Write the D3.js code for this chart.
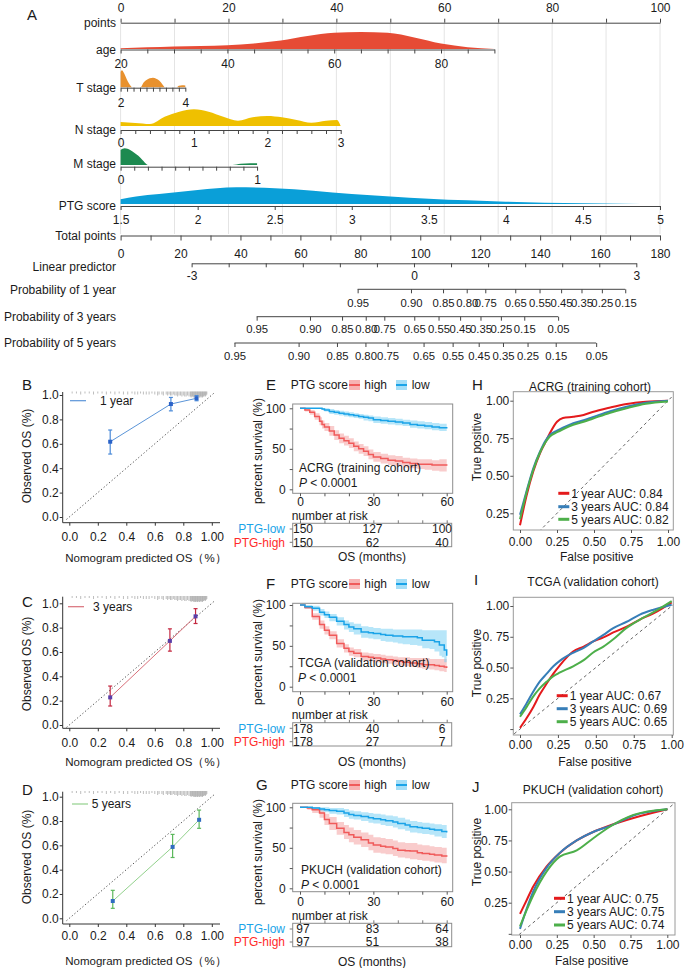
<!DOCTYPE html>
<html><head><meta charset="utf-8">
<script src="https://cdn.jsdelivr.net/npm/d3@7/dist/d3.min.js"></script>
<style>html,body{margin:0;padding:0;background:#fff}svg{display:block}</style>
</head><body>
<script>
// ======================= DATA =======================
// ---- Panel A: nomogram ----
const pointsTicks=[0,10,20,30,40,50,60,70,80,90,100];
const pointsLabels=[0,20,40,60,80,100];
const ageTicks=[20,25,30,35,40,45,50,55,60,65,70,75,80,85,90];
const ageLabels=[20,40,60,80];
const ageRange=[20,90], agePoints=69.3;
const ageDensX=[20,25,30,35,40,45,50,55,60,65,70,75,80,85,90];
const ageDensY=[0.04,0.1,0.15,0.18,0.22,0.33,0.5,0.76,0.95,1.0,0.95,0.68,0.32,0.11,0.0];
const tTicks=[2,2.2,2.4,2.6,2.8,3,3.2,3.4,3.6,3.8,4];
const tLabels=[2,4];
const tRange=[2,4], tPoints=12;
const tDensX=[2,2.04,2.1,2.16,2.22,2.3,2.36,2.62,2.7,2.8,2.9,3.0,3.1,3.2,3.3,3.37,3.74,3.8,3.9,4.0];
const tDensY=[0.9,1.0,0.85,0.6,0.35,0.1,0,0,0.25,0.42,0.52,0.55,0.5,0.38,0.15,0,0,0.08,0.12,0.1];
const nTicks=[0,0.2,0.4,0.6,0.8,1,1.2,1.4,1.6,1.8,2,2.2,2.4,2.6,2.8,3];
const nLabels=[0,1,2,3];
const nRange=[0,3], nPoints=40.8;
const nDensX=[0,0.2,0.4,0.6,0.8,1.0,1.2,1.4,1.6,1.8,2.0,2.2,2.4,2.6,2.8,2.95,3.0];
const nDensY=[0.24,0.18,0.12,0.56,0.86,1.0,0.86,0.56,0.32,0.52,0.6,0.52,0.36,0.2,0.32,0.36,0];
const mTicks=[0,0.1,0.2,0.3,0.4,0.5,0.6,0.7,0.8,0.9,1];
const mLabels=[0,1];
const mRange=[0,1], mPoints=25.3;
const mDensX=[0,0.03,0.07,0.1,0.13,0.16,0.19,0.2,0.82,0.88,0.95,1.0];
const mDensY=[0.9,1.0,0.9,0.74,0.55,0.3,0.05,0,0,0.07,0.11,0.1];
const ptgTicks=[1.5,2,2.5,3,3.5,4,4.5,5];
const ptgRange=[1.5,5], ptgPoints=100;
const ptgDensX=[1.5,1.6,1.75,2.0,2.25,2.5,2.75,3.0,3.25,3.5,3.75,4.0,4.25,4.5,4.75,5.0];
const ptgDensY=[0.28,0.45,0.6,0.84,1.0,0.95,0.8,0.6,0.45,0.32,0.22,0.14,0.08,0.04,0.015,0];
const totalTicks=[0,10,20,30,40,50,60,70,80,90,100,110,120,130,140,150,160,170,180];
const totalLabels=[0,20,40,60,80,100,120,140,160,180];
const lpTicks=[-3,-2.5,-2,-1.5,-1,-0.5,0,0.5,1,1.5,2,2.5,3];
const lpLabels=[-3,0,3];
const lpPointsRange=[23.7,172.1];
const prob1Labels=["0.95","0.90","0.85","0.80","0.75","0.65","0.55","0.45","0.35","0.25","0.15"];
const prob1Points=[79.1,96.9,107.6,115.5,121.7,131.7,139.8,147.0,153.8,160.6,168.4];
const prob3Labels=["0.95","0.90","0.85","0.80","0.75","0.65","0.55","0.45","0.35","0.25","0.15","0.05"];
const prob3Points=[45.4,63.2,73.9,81.8,88.0,98.0,106.1,113.3,120.1,126.9,134.7,146.0];
const prob5Labels=["0.95","0.90","0.85","0.80","0.75","0.65","0.55","0.45","0.35","0.25","0.15","0.05"];
const prob5Points=[38.0,59.4,72.2,81.7,89.1,101.1,110.8,119.5,127.6,135.8,145.2,158.7];

// ---- Panels B-D: calibration ----
const calTicks=[0,0.2,0.4,0.6,0.8,1.0];
const calXLabels=["0.0","0.2","0.4","0.6","0.8","1.00"];
const calYLabels=["0.0","0.2","0.4","0.6","0.8","1.0"];
const rugValues=[0.02,0.05,0.08,0.11,0.14,0.17,0.2,0.23,0.26,0.29,0.32,0.35,0.38,0.41,0.44,0.46,0.48,0.5,0.52,0.54,0.56,0.58,0.6,0.62,0.63,0.65,0.66,0.68,0.69,0.7,0.71,0.72,0.73,0.74,0.75,0.76,0.77,0.78,0.79,0.8,0.81,0.82,0.83,0.84,0.85,0.855,0.86,0.865,0.87,0.875,0.88,0.885,0.89,0.895,0.9,0.905,0.91,0.915,0.92,0.925,0.93,0.935,0.94,0.945,0.95,0.955,0.96,0.965];
const rugLen=[2,2,3,2,2,3,2,2,3,2,3,2,3,3,2,3,3,2,3,3,3,2,3,4,3,3,4,3,4,3,4,4,3,4,4,5,4,4,5,4,5,5,4,5,5,6,5,5,6,5,6,6,5,6,6,5,6,6,5,6,5,6,5,5,4,5,4,3];
const cal1Pred=[0.287,0.713,0.893], cal1Obs=[0.617,0.926,0.973], cal1Lo=[0.516,0.87,0.953], cal1Hi=[0.713,0.98,0.995];
const cal3Pred=[0.287,0.706,0.886], cal3Obs=[0.227,0.691,0.893], cal3Lo=[0.156,0.607,0.834], cal3Hi=[0.32,0.79,0.956];
const cal5Pred=[0.305,0.725,0.911], cal5Obs=[0.142,0.587,0.81], cal5Lo=[0.082,0.5,0.74], cal5Hi=[0.23,0.69,0.89];

// ---- Panels E-G: Kaplan-Meier ----
const kmYTicks=[0,25,50,75,100], kmYLabels=[0,50,100];
const kmXTicks=[0,10,20,30,40,50,60], kmXLabels=[0,30,60];
const riskTimes=[0,30,60];
const eTime=[0,2,4,6,8,9,10,12,14,16,18,20,22,24,26,28,30,33,36,39,42,45,48,51,54,57,60];
const eLow  =[100,100,100,100,100,99,98,96,95,94,93,92,91,90,89,88,86,85,84,83,82,80,79,78,77,76,75];
const eLowLo=[100,100,100,100,100,98,96,93,92,91,90,89,88,87,85,84,82,81,80,79,78,76,75,74,73,72,70];
const eLowHi=[100,100,100,100,100,100,100,99,98,97,96,95,94,93,92,91,90,89,88,87,86,85,84,83,82,81,80];
const eHigh  =[100,98,95,90,84,80,77,72,67,63,60,57,53,50,47,43,40,38,36,35,33,32,31,31,30,30,29];
const eHighLo=[100,96,92,86,79,75,72,66,61,57,54,51,47,44,41,37,34,32,30,29,27,26,25,24,23,22,21];
const eHighHi=[100,100,98,94,89,85,82,78,73,69,66,63,59,56,53,49,46,44,42,41,39,38,37,37,36,37,37];
const eRiskLow=[150,127,100], eRiskHigh=[150,62,40];
const fTime=[0,2,5,8,10,12,15,18,20,22,25,28,30,33,35,38,40,42,45,48,50,53,55,57,58,59,60];
const fLow  =[100,98,96,91,88,85,80,76,73,71,67,66,65,64,63,62,62,61,61,60,57,57,55,51,51,45,38];
const fLowLo=[100,96,93,87,84,80,75,70,67,64,60,59,58,56,55,54,53,52,51,50,47,46,43,38,36,30,24];
const fLowHi=[100,100,99,95,92,89,85,81,79,77,74,73,72,71,71,70,70,70,70,70,69,69,69,69,69,69,68];
const fHigh  =[100,97,86,76,69,63,53,47,43,41,37,36,35,34,33,32,31,30,29,28,27,27,26,25,25,24,23];
const fHighLo=[100,95,82,71,64,58,48,42,38,36,32,31,30,29,28,27,26,25,24,23,22,21,20,19,19,18,17];
const fHighHi=[100,99,90,81,74,68,58,52,48,46,42,41,40,39,38,37,36,36,35,35,35,34,34,34,34,34,33];
const fRiskLow=[178,40,6], fRiskHigh=[178,27,7];
const gTime=[0,3,5,8,10,12,15,18,20,22,25,28,30,33,35,38,40,43,45,48,50,53,55,58,60];
const gLow  =[100,100,99,98,97,96,95,93,91,90,88.5,87,86,84.5,83.5,82,80,78,76,75,74,73,72,70,69];
const gLowLo=[100,100,97,95,94,92,91,88,86,85,83,81,80,78,77,75,73,71,69,68,67,66,64,62,61];
const gLowHi=[100,100,100,100,100,99,99,98,96,95,94,93,92,91,90,89,87,85,83,82,81,80,79,78,77];
const gHigh  =[100,99,97,93,85,80,74,69,66,63,60,56,53.5,52,51,49,47,46.5,46,44,43,42,41,40,39];
const gHighLo=[100,97,93,87,78,72,66,61,57,54,51,47,44,43,42,40,38,37,36,35,34,33,32,31,30];
const gHighHi=[100,100,100,98,92,88,82,78,75,72,69,66,63,62,61,59,57,56,56,54,53,52,51,50,49];
const gRiskLow=[97,83,64], gRiskHigh=[97,51,38];

// ---- Panels H-J: ROC ----
const rocXTicks=[0,0.25,0.5,0.75,1], rocXLabels=["0.00","0.25","0.50","0.75","1.00"];
const rocYTicks=[0.25,0.5,0.75,1], rocYLabels=["0.25","0.50","0. 75","1.00"];
const hFpr=[0,0.045,0.09,0.135,0.17,0.2,0.25,0.29,0.36,0.43,0.49,0.61,0.72,0.85,1];
const h1=[0.17,0.37,0.53,0.65,0.72,0.78,0.86,0.885,0.893,0.905,0.925,0.955,0.978,0.993,1.0];
const h3=[0.24,0.40,0.55,0.66,0.73,0.77,0.80,0.82,0.85,0.87,0.89,0.93,0.96,0.987,1.0];
const h5=[0.21,0.39,0.54,0.655,0.72,0.76,0.79,0.81,0.84,0.86,0.88,0.92,0.95,0.98,0.995];
const iFpr=[0,0.044,0.088,0.13,0.176,0.22,0.264,0.35,0.42,0.48,0.55,0.615,0.70,0.79,0.88,1];
const i1=[0.01,0.09,0.18,0.28,0.37,0.45,0.52,0.63,0.67,0.71,0.745,0.785,0.83,0.89,0.94,1.03];
const i3=[0.12,0.21,0.305,0.385,0.45,0.51,0.556,0.62,0.66,0.71,0.765,0.82,0.87,0.93,0.97,1.01];
const i5=[0.10,0.18,0.265,0.33,0.385,0.43,0.46,0.51,0.56,0.62,0.67,0.73,0.82,0.89,0.95,1.04];
const jFpr=[0,0.045,0.09,0.18,0.27,0.385,0.5,0.61,0.77,1];
const j1=[0.16,0.27,0.38,0.54,0.65,0.75,0.82,0.87,0.93,1.0];
const j3=[0.04,0.2,0.34,0.53,0.65,0.75,0.82,0.865,0.95,1.0];
const j5=[0.06,0.19,0.31,0.50,0.62,0.67,0.77,0.86,0.955,1.0];
const rocLegend=["1 year AUC: ","3 years AUC: ","5 years AUC: "];
const hAUC=["0.84","0.84","0.82"], iAUC=["0.67","0.69","0.65"], jAUC=["0.75","0.75","0.74"];

// ======================= DRAW =======================
const FONT="'Liberation Sans', Arial, Helvetica, sans-serif";
const svg=d3.select("body").append("svg").attr("width",685).attr("height",968).attr("font-family",FONT);
svg.append("rect").attr("width",685).attr("height",968).attr("fill","#fff");
const INK="#1a1a1a";
function txt(x,y,s,o={}){
  return svg.append("text").attr("x",x).attr("y",y).attr("dy","0.35em")
    .attr("font-size",o.size||12).attr("text-anchor",o.anchor||"start")
    .attr("fill",o.fill||INK).attr("font-style",o.italic?"italic":null).text(s);
}

// ---------- Panel A ----------
const xP=d3.scaleLinear([0,100],[120.6,660]);
const xT=d3.scaleLinear([0,180],[120.6,660]);
svg.append("g").selectAll("line").data(pointsTicks).join("line")
  .attr("x1",d=>xP(d)).attr("x2",d=>xP(d)).attr("y1",23).attr("y2",234)
  .attr("stroke","#e4e4e4").attr("stroke-width",1);
txt(27,15,"A",{size:15});

function dens(axisY,scale,xs,ys,color,h,off){
  const data=xs.map((x,i)=>({x,y:ys[i]}));
  const base=axisY-off;
  svg.append("path").datum(data)
    .attr("d",d3.area().x(d=>scale(d.x)).y0(base).y1(d=>base-d.y*h).curve(d3.curveMonotoneX))
    .attr("fill",color);
}
function nomoRow(o){
  const axis=(o.up?d3.axisTop(o.scale):d3.axisBottom(o.scale))
    .tickValues(o.ticks).tickSizeInner(o.tick||4).tickSizeOuter(0)
    .tickFormat(o.fmt);
  const g=svg.append("g").attr("transform",`translate(0,${o.y})`).call(axis);
  if(o.span){
    g.select(".domain").remove();
    g.append("line").attr("x1",o.scale(d3.min(o.ticks))).attr("x2",o.scale(d3.max(o.ticks))).attr("stroke","#444");
  } else g.select(".domain").attr("stroke","#444");
  g.selectAll(".tick line").attr("stroke","#444");
  g.selectAll(".tick text").attr("y",o.up?-o.lab:o.lab).attr("dy","0.35em")
    .attr("font-size",o.fs||12).attr("fill",INK).attr("font-family",FONT);
  txt(116,o.y-(o.nameOff||0),o.name,{anchor:"end"});
}
const lab=(arr)=>d=>arr.indexOf(d)>=0?String(d):"";

nomoRow({y:22.7,scale:xP,ticks:pointsTicks,fmt:lab(pointsLabels),up:true,lab:15.3,name:"points"});
const sAge=d3.scaleLinear(ageRange,[xP(0),xP(agePoints)]);
dens(49.5,sAge,ageDensX,ageDensY,"#e64b35",17,0.5);
nomoRow({y:49.5,scale:sAge,ticks:ageTicks,fmt:lab(ageLabels),lab:13.8,name:"age"});
const sT=d3.scaleLinear(tRange,[xP(0),xP(tPoints)]);
dens(87.7,sT,tDensX,tDensY,"#e8912e",17,0.5);
nomoRow({y:87.7,scale:sT,ticks:tTicks,fmt:lab(tLabels),lab:15.6,name:"T stage"});
const sN=d3.scaleLinear(nRange,[xP(0),xP(nPoints)]);
dens(130,sN,nDensX,nDensY,"#efc000",16.7,4);
nomoRow({y:130,scale:sN,ticks:nTicks,fmt:lab(nLabels),lab:12.7,name:"N stage"});
const sM=d3.scaleLinear(mRange,[xP(0),xP(mPoints)]);
dens(166.7,sM,mDensX,mDensY,"#1d8a50",16.7,1.7);
nomoRow({y:166.7,scale:sM,ticks:mTicks,fmt:lab(mLabels),lab:13.3,name:"M stage",nameOff:3});
const sPTG=d3.scaleLinear(ptgRange,[xP(0),xP(ptgPoints)]);
dens(206,sPTG,ptgDensX,ptgDensY,"#0a9fd8",16.7,2);
nomoRow({y:206,scale:sPTG,ticks:ptgTicks,fmt:d=>String(d),lab:14,name:"PTG score"});
nomoRow({y:235.5,scale:xT,ticks:totalTicks,fmt:lab(totalLabels),lab:18.3,tick:5,name:"Total points"});
const sLP=d3.scaleLinear([-3,3],[xT(lpPointsRange[0]),xT(lpPointsRange[1])]);
nomoRow({y:263.3,scale:sLP,ticks:lpTicks,fmt:lab(lpLabels),lab:12.7,name:"Linear predictor",nameOff:-3});
nomoRow({y:289.3,scale:xT,span:true,fs:11.3,ticks:prob1Points,fmt:d=>prob1Labels[prob1Points.indexOf(d)],lab:14,name:"Probability of 1 year"});
nomoRow({y:316.7,scale:xT,span:true,fs:11.3,ticks:prob3Points,fmt:d=>prob3Labels[prob3Points.indexOf(d)],lab:12.6,name:"Probability of 3 years"});
nomoRow({y:343,scale:xT,span:true,fs:11.3,ticks:prob5Points,fmt:d=>prob5Labels[prob5Points.indexOf(d)],lab:12.6,name:"Probability of 5 years"});

// ---------- Panels B-D ----------
function drawCal(o){
  const x=d3.scaleLinear([0,1],[69.3,211.8]);
  const y=d3.scaleLinear([0,1],[o.y0,o.y1]);
  const g=svg.append("g");
  txt(22,o.letterY,o.letter,{size:15});
  g.append("line").attr("x1",x(-0.02)).attr("y1",y(-0.02)).attr("x2",x(1.02)).attr("y2",y(1.02))
    .attr("stroke","#555").attr("stroke-width",1).attr("stroke-dasharray","1.3,2.2");
  g.selectAll(null).data(rugValues).join("line")
    .attr("x1",d=>x(d)).attr("x2",d=>x(d)).attr("y1",o.rugTop).attr("y2",(d,i)=>o.rugTop+rugLen[i])
    .attr("stroke","#a0a0a0").attr("stroke-width",0.7);
  const gx=g.append("g").attr("transform",`translate(0,${o.axisY})`)
    .call(d3.axisBottom(x).tickValues(calTicks).tickFormat((d,i)=>calXLabels[i]).tickSizeInner(3).tickSizeOuter(0));
  gx.select(".domain").remove();
  gx.append("line").attr("x1",62.7).attr("x2",220).attr("stroke","#333");
  gx.selectAll(".tick line").attr("stroke","#333");
  gx.selectAll(".tick text").attr("y",o.xLabY-o.axisY).attr("dy","0.35em").attr("font-size",12).attr("fill",INK).attr("font-family",FONT);
  const gy=g.append("g").attr("transform","translate(62.7,0)")
    .call(d3.axisLeft(y).tickValues(calTicks).tickFormat((d,i)=>calYLabels[i]).tickSizeInner(3).tickSizeOuter(0));
  gy.select(".domain").remove();
  gy.append("line").attr("y1",o.yTop).attr("y2",o.axisY).attr("stroke","#333");
  gy.selectAll(".tick line").attr("stroke","#333");
  gy.selectAll(".tick text").attr("x",-4).attr("font-size",12).attr("fill",INK).attr("font-family",FONT);
  const pts=o.pred.map((p,i)=>({p,o:o.obs[i],lo:o.lo[i],hi:o.hi[i]}));
  g.append("path").datum(pts).attr("d",d3.line().x(d=>x(d.p)).y(d=>y(d.o)))
    .attr("fill","none").attr("stroke",o.lineCol).attr("stroke-width",1);
  const eb=g.selectAll(null).data(pts).join("g");
  eb.append("line").attr("x1",d=>x(d.p)).attr("x2",d=>x(d.p)).attr("y1",d=>y(d.lo)).attr("y2",d=>y(d.hi)).attr("stroke",o.errCol).attr("stroke-width",1.2);
  eb.append("line").attr("x1",d=>x(d.p)-2).attr("x2",d=>x(d.p)+2).attr("y1",d=>y(d.lo)).attr("y2",d=>y(d.lo)).attr("stroke",o.errCol).attr("stroke-width",1.2);
  eb.append("line").attr("x1",d=>x(d.p)-2).attr("x2",d=>x(d.p)+2).attr("y1",d=>y(d.hi)).attr("y2",d=>y(d.hi)).attr("stroke",o.errCol).attr("stroke-width",1.2);
  eb.append("rect").attr("x",d=>x(d.p)-2).attr("y",d=>y(d.o)-2).attr("width",4).attr("height",4).attr("fill",o.ptCol);
  g.append("line").attr("x1",o.legX0).attr("x2",o.legX0+16).attr("y1",o.legY).attr("y2",o.legY).attr("stroke",o.lineCol).attr("stroke-width",1.2);
  txt(o.legTX,o.legY,o.legend);
  txt(146,o.titleY,"Nomogram predicted OS（%）",{size:11.5,anchor:"middle"});
  svg.append("text").attr("transform",`translate(27,${o.ytC}) rotate(-90)`).attr("text-anchor","middle")
    .attr("dy","0.35em").attr("font-size",12).attr("fill",INK).text("Observed OS (%)");
}
drawCal({letter:"B",letterY:385,y0:517,y1:395,axisY:522.7,yTop:392,xLabY:536.7,titleY:558.3,rugTop:391.5,
  pred:cal1Pred,obs:cal1Obs,lo:cal1Lo,hi:cal1Hi,lineCol:"#5b95d8",errCol:"#4a8ad8",ptCol:"#2a62c8",
  legX0:70,legY:400.7,legTX:100,legend:"1 year",ytC:456});
drawCal({letter:"C",letterY:602,y0:725,y1:603.3,axisY:728.3,yTop:596.7,xLabY:743.3,titleY:761.7,rugTop:596,
  pred:cal3Pred,obs:cal3Obs,lo:cal3Lo,hi:cal3Hi,lineCol:"#d9707a",errCol:"#c42840",ptCol:"#5b3fa8",
  legX0:68,legY:606.7,legTX:93,legend:"3 years",ytC:664});
drawCal({letter:"D",letterY:790,y0:918.3,y1:796.7,axisY:924,yTop:791.7,xLabY:935.7,titleY:960.7,rugTop:791,
  pred:cal5Pred,obs:cal5Obs,lo:cal5Lo,hi:cal5Hi,lineCol:"#92d18c",errCol:"#5cb85c",ptCol:"#2f6cc0",
  legX0:72,legY:804,legTX:91.7,legend:"5  years",ytC:857});

// ---------- Panels E-G ----------
const LOWC="#1aa3e8", HIGHC="#f05a5a";
function drawKM(o){
  const x=d3.scaleLinear([0,60],[300,446.7]);
  const y=d3.scaleLinear([0,100],[o.y0,o.y100]);
  const g=svg.append("g");
  txt(o.letterX,o.legY,o.letter,{size:15});
  txt(290.7,o.legY,"PTG score");
  [[349,HIGHC,"#f7b3b3","high",364.3],[396,LOWC,"#a5def7","low",411.7]].forEach(([lx,c,f,s,tx])=>{
    g.append("rect").attr("x",lx).attr("y",o.legY-5).attr("width",11).attr("height",10).attr("fill",f);
    g.append("line").attr("x1",lx).attr("x2",lx+11).attr("y1",o.legY).attr("y2",o.legY).attr("stroke",c).attr("stroke-width",2);
    txt(tx,o.legY,s);
  });
  const mk=(t,s,lo,hi)=>t.map((tt,i)=>({t:tt,s:s[i],lo:lo[i],hi:hi[i]}));
  const high=mk(o.time,o.high,o.highLo,o.highHi), low=mk(o.time,o.low,o.lowLo,o.lowHi);
  const area=d3.area().x(d=>x(d.t)).y0(d=>y(d.lo)).y1(d=>y(d.hi)).curve(d3.curveStepAfter);
  const line=d3.line().x(d=>x(d.t)).y(d=>y(d.s)).curve(d3.curveStepAfter);
  g.append("path").datum(high).attr("d",area).attr("fill","#f49a9a").attr("opacity",0.5);
  g.append("path").datum(low).attr("d",area).attr("fill","#6fcdf3").attr("opacity",0.5);
  g.append("path").datum(high).attr("d",line).attr("fill","none").attr("stroke",HIGHC).attr("stroke-width",1.5);
  g.append("path").datum(low).attr("d",line).attr("fill","none").attr("stroke",LOWC).attr("stroke-width",1.5);
  g.append("rect").attr("x",o.bx0).attr("y",o.by0).attr("width",o.bx1-o.bx0).attr("height",o.by1-o.by0)
    .attr("fill","none").attr("stroke","#8c8c8c").attr("stroke-width",1);
  const gx=g.append("g").attr("transform",`translate(0,${o.by1})`)
    .call(d3.axisBottom(x).tickValues(kmXTicks).tickFormat(d=>kmXLabels.indexOf(d)>=0?d:"").tickSizeInner(3).tickSizeOuter(0));
  gx.select(".domain").remove();
  gx.selectAll(".tick line").attr("stroke","#555");
  gx.selectAll(".tick text").attr("y",o.xLabY-o.by1).attr("dy","0.35em").attr("font-size",12).attr("fill",INK).attr("font-family",FONT);
  const gy=g.append("g").attr("transform",`translate(${o.bx0},0)`)
    .call(d3.axisLeft(y).tickValues(kmYTicks).tickFormat(d=>kmYLabels.indexOf(d)>=0?d:"").tickSizeInner(3).tickSizeOuter(0));
  gy.select(".domain").remove();
  gy.selectAll(".tick line").attr("stroke","#555");
  gy.selectAll(".tick text").attr("x",-7).attr("font-size",12).attr("fill",INK).attr("font-family",FONT);
  txt(o.annX,o.annY,o.cohort);
  const pt=svg.append("text").attr("x",o.annX).attr("y",o.annY+14.5).attr("dy","0.35em").attr("font-size",12).attr("fill",INK);
  pt.append("tspan").attr("font-style","italic").text("P");
  pt.append("tspan").text(" < 0.0001");
  svg.append("text").attr("transform",`translate(258,${o.ytC}) rotate(-90)`).attr("text-anchor","middle")
    .attr("dy","0.35em").attr("font-size",12).attr("fill",INK).text("percent survival (%)");
  txt(291.7,o.narY,"number at risk");
  const tx=d3.scaleLinear([0,60],[303,442]);
  g.append("rect").attr("x",o.bx0).attr("y",o.tY0).attr("width",o.bx1-1-o.bx0).attr("height",o.tY1-o.tY0)
    .attr("fill","none").attr("stroke","#8c8c8c");
  const gt=g.append("g").attr("transform",`translate(0,${o.tY0})`)
    .call(d3.axisTop(x).tickValues(kmXTicks).tickFormat("").tickSizeInner(3).tickSizeOuter(0));
  gt.select(".domain").remove(); gt.selectAll(".tick line").attr("stroke","#777");
  [[o.rowLowY,o.riskLow,LOWC,"PTG-low"],[o.rowHighY,o.riskHigh,"#ff2a2a","PTG-high"]].forEach(([ry,vals,c,name])=>{
    g.append("line").attr("x1",o.bx0-3).attr("x2",o.bx0).attr("y1",ry).attr("y2",ry).attr("stroke","#777");
    riskTimes.forEach((t,i)=>txt(tx(t),ry,String(vals[i]),{anchor:"middle"}));
    txt(285,ry,name,{anchor:"end",fill:c});
  });
  txt(372,o.osY,"OS (months)",{anchor:"middle"});
}
drawKM({letter:"E",letterX:266,legY:385,y0:489.3,y100:408.3,bx0:292.7,bx1:452.7,by0:404,by1:493.3,xLabY:502,
  time:eTime,low:eLow,lowLo:eLowLo,lowHi:eLowHi,high:eHigh,highLo:eHighLo,highHi:eHighHi,
  annX:299,annY:468,cohort:"ACRG (training cohort)",ytC:451,narY:515.5,tY0:523.3,tY1:546.7,rowLowY:529,rowHighY:542.3,
  riskLow:eRiskLow,riskHigh:eRiskHigh,osY:557});
drawKM({letter:"F",letterX:266,legY:584,y0:686.7,y100:605,bx0:292.7,bx1:452.7,by0:603.3,by1:691.7,xLabY:701.5,
  time:fTime,low:fLow,lowLo:fLowLo,lowHi:fLowHi,high:fHigh,highLo:fHighLo,highHi:fHighHi,
  annX:298,annY:663,cohort:"TCGA (validation cohort)",ytC:652,narY:715,tY0:722.7,tY1:746,rowLowY:728.3,rowHighY:741.7,
  riskLow:fRiskLow,riskHigh:fRiskHigh,osY:761.7});
drawKM({letter:"G",letterX:256,legY:785,y0:888.3,y100:807.3,bx0:292.7,bx1:452.7,by0:803.3,by1:891.7,xLabY:901.7,
  time:gTime,low:gLow,lowLo:gLowLo,lowHi:gLowHi,high:gHigh,highLo:gHighLo,highHi:gHighHi,
  annX:301,annY:870,cohort:"PKUCH (validation cohort)",ytC:852,narY:915.5,tY0:923.3,tY1:946.7,rowLowY:929,rowHighY:942,
  riskLow:gRiskLow,riskHigh:gRiskHigh,osY:961.7});

// ---------- Panels H-J ----------
const ROCC=["#e41a1c","#377eb8","#4daf4a"];
let clipN=0;
function drawROC(o){
  const x=d3.scaleLinear([0,1],o.xr);
  const y=d3.scaleLinear([0.25,1],[o.y25,o.y1]);
  const g=svg.append("g");
  const id="clip"+(clipN++);
  g.append("clipPath").attr("id",id).append("rect").attr("x",o.bx0).attr("y",o.by0).attr("width",o.bx1-o.bx0).attr("height",o.by1-o.by0);
  txt(o.letterX,o.letterY,o.letter,{size:15});
  txt(o.titleX,o.titleY,o.title,{anchor:"middle"});
  g.append("line").attr("clip-path",`url(#${id})`).attr("x1",x(-0.1)).attr("y1",y(-0.1)).attr("x2",x(1.1)).attr("y2",y(1.1))
    .attr("stroke","#666").attr("stroke-width",1).attr("stroke-dasharray","3,3");
  o.curves.forEach((c,k)=>{
    const d=o.fpr.map((f,i)=>[f,c[i]]);
    g.append("path").datum(d).attr("d",d3.line().x(p=>x(p[0])).y(p=>y(p[1])).curve(d3.curveMonotoneX))
      .attr("fill","none").attr("stroke",ROCC[k]).attr("stroke-width",2);
  });
  g.append("rect").attr("x",o.bx0).attr("y",o.by0).attr("width",o.bx1-o.bx0).attr("height",o.by1-o.by0)
    .attr("fill","none").attr("stroke","#9a9a9a").attr("stroke-width",1);
  const gx=g.append("g").attr("transform",`translate(0,${o.by1})`)
    .call(d3.axisBottom(x).tickValues(rocXTicks).tickFormat((d,i)=>rocXLabels[i]).tickSizeInner(3).tickSizeOuter(0));
  gx.select(".domain").remove();
  gx.selectAll(".tick line").attr("stroke","#555");
  gx.selectAll(".tick text").attr("y",o.xLabY-o.by1).attr("dy","0.35em").attr("font-size",12).attr("fill",INK).attr("font-family",FONT);
  const yt=o.zeroTick?[0].concat(rocYTicks):rocYTicks;
  const gy=g.append("g").attr("transform",`translate(${o.bx0},0)`)
    .call(d3.axisLeft(y).tickValues(yt).tickFormat(d=>d===0?"":rocYLabels[rocYTicks.indexOf(d)]).tickSizeInner(3).tickSizeOuter(0));
  gy.select(".domain").remove();
  gy.selectAll(".tick line").attr("stroke","#555");
  gy.selectAll(".tick text").attr("x",-4).attr("font-size",12).attr("fill",INK).attr("font-family",FONT);
  o.legY.forEach((ly,k)=>{
    g.append("line").attr("x1",o.legX0).attr("x2",o.legX0+11).attr("y1",ly).attr("y2",ly).attr("stroke",ROCC[k]).attr("stroke-width",3);
    txt(o.legX0+13,ly,rocLegend[k]+o.auc[k]);
  });
  svg.append("text").attr("transform",`translate(476.7,${o.ytC}) rotate(-90)`).attr("text-anchor","middle")
    .attr("dy","0.35em").attr("font-size",12).attr("fill",INK).text("True positive");
  txt(o.xtX,o.xtY,"False positive",{anchor:"middle"});
}
drawROC({letter:"H",letterX:472,letterY:385,title:"ACRG (training cohort)",titleX:590,titleY:387,
  xr:[520,668],y25:513.3,y1:400.7,bx0:513.3,bx1:673.3,by0:391.7,by1:530,xLabY:541.7,
  fpr:hFpr,curves:[h1,h3,h5],auc:hAUC,legX0:558.3,legY:[493.3,506.7,519.3],ytC:447,xtX:596.7,xtY:556.7});
drawROC({letter:"I",letterX:474,letterY:580,title:"TCGA (validation cohort)",titleX:593,titleY:582,zeroTick:true,
  xr:[520,671.7],y25:698.3,y1:606,bx0:513.3,bx1:673.3,by0:597.3,by1:735,xLabY:745,
  fpr:iFpr,curves:[i1,i3,i5],auc:iAUC,legX0:556.7,legY:[695.7,708.7,721.7],ytC:663,xtX:595,xtY:761.7});
drawROC({letter:"J",letterX:472,letterY:786.7,title:"PKUCH (validation cohort)",titleX:593,titleY:790,zeroTick:true,
  xr:[520,667.3],y25:902.7,y1:809.3,bx0:511.7,bx1:675,by0:802.7,by1:935,xLabY:945,
  fpr:jFpr,curves:[j1,j3,j5],auc:jAUC,legX0:554,legY:[898.3,911.7,925],ytC:852,xtX:591.7,xtY:960.7});
</script>
</body></html>
